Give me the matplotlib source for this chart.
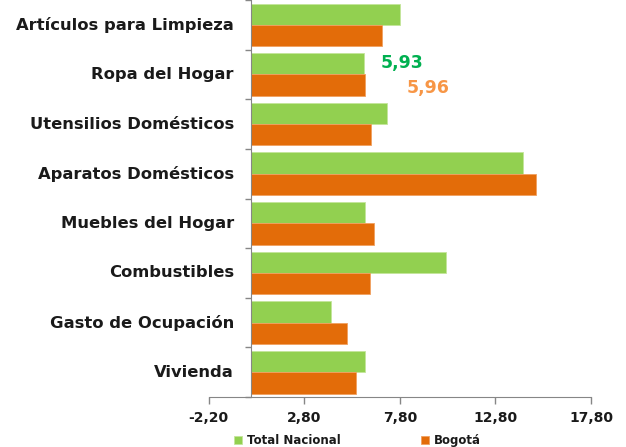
import matplotlib
matplotlib.use("Agg")
import matplotlib.pyplot as plt
import numpy as np

categorias = ["Artículos para Limpieza", "Ropa del Hogar", "Utensilios Domésticos",
              "Aparatos Domésticos", "Muebles del Hogar", "Combustibles",
              "Gasto de Ocupación", "Vivienda"]
total_nacional = [7.80, 5.93, 7.12, 14.25, 5.98, 10.22, 4.22, 5.98]
bogota = [6.88, 5.96, 6.31, 14.90, 6.43, 6.25, 5.05, 5.53]
xticks = [-2.2, 2.8, 7.8, 12.8, 17.8]

plt.rcParams['font.family'] = ['DejaVu Sans']
plt.rcParams['font.weight'] = 'bold'

fig = plt.figure(figsize=(6.26, 4.47), dpi=100)
ax = fig.add_axes([0.3334, 0.1119, 0.6106, 0.888])

y = np.arange(len(categorias))
h = 0.43
ax.barh(y - h / 2, total_nacional, height=h, color="#92D050", edgecolor="#C4E59A",
        linewidth=0.6, label="Total Nacional")
ax.barh(y + h / 2, bogota, height=h, color="#E36C09", edgecolor="#F0A060",
        linewidth=0.6, label="Bogotá")

ax.set_xlim(-2.2, 17.8)
ax.set_ylim(len(categorias) - 0.5, -0.5)
ax.set_xticks(xticks)
ax.set_xticklabels([f"{v:.2f}".replace(".", ",") for v in xticks])
ax.set_yticks([])
ax.set_yticks(np.arange(len(categorias) + 1) - 0.5, minor=True)
ax.tick_params(axis="y", which="minor", length=4, color="#868686", width=1)
ax.tick_params(axis="x", length=5, color="#868686", width=1, pad=5)
for lab in ax.get_xticklabels():
    lab.set_fontsize(10)
    lab.set_fontweight("bold")
    lab.set_color("#1a1a1a")

# category names, right-aligned a little left of the zero line
for yi, nombre in zip(y, categorias):
    ax.text(-0.88, yi, nombre, ha="right", va="center", fontsize=11.8,
            fontweight="bold", color="#1a1a1a")

for s in ["top", "right"]:
    ax.spines[s].set_visible(False)
ax.spines["left"].set_position(("data", 0))
ax.spines["left"].set_color("#868686")
ax.spines["bottom"].set_color("#868686")

ax.text(7.9, 0.77, "5,93", color="#00B050", fontsize=12.5, fontweight="bold",
        va="center", ha="center")
ax.text(9.3, 1.27, "5,96", color="#F79646", fontsize=12.5, fontweight="bold",
        va="center", ha="center")

leg = fig.legend(loc="lower center", bbox_to_anchor=(0.571, -0.024), ncol=2, frameon=False,
                 handlelength=0.7, handleheight=0.7, columnspacing=6.8,
                 handletextpad=0.4, prop={"weight": "bold", "size": 8.5})
for t in leg.get_texts():
    t.set_color("#1a1a1a")

fig.savefig("out.png", dpi=100)
